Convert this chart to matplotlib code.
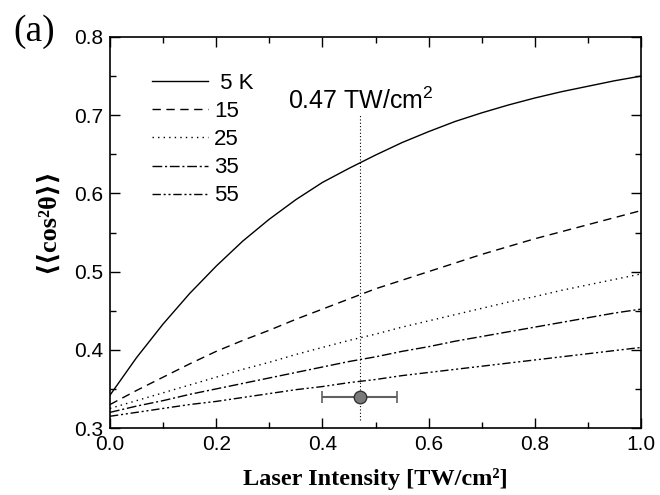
import matplotlib
matplotlib.use("Agg")
import numpy as np
import matplotlib.pyplot as plt
from matplotlib.ticker import MultipleLocator

plt.rcParams['font.family'] = ['Liberation Sans', 'DejaVu Sans']
plt.rcParams['mathtext.fontset'] = 'custom'
plt.rcParams['mathtext.rm'] = 'Liberation Sans'
plt.rcParams['mathtext.it'] = 'Liberation Sans:italic'
plt.rcParams['mathtext.bf'] = 'Liberation Sans:bold'

# laser intensity (TW/cm^2)
intensity = [0.0, 0.05, 0.1, 0.15, 0.2, 0.25, 0.3, 0.35, 0.4, 0.45, 0.5,
             0.55, 0.6, 0.65, 0.7, 0.75, 0.8, 0.85, 0.9, 0.95, 1.0]
# <<cos^2 theta>> for each rotational temperature
temps = [' 5 K', '15', '25', '35', '55']
cos2_5K = [0.342, 0.390, 0.433, 0.472, 0.507, 0.539, 0.567, 0.592, 0.614, 0.632, 0.649,
           0.665, 0.679, 0.692, 0.703, 0.713, 0.722, 0.730, 0.737, 0.744, 0.750]
cos2_15 = [0.330, 0.348, 0.365, 0.382, 0.398, 0.412, 0.425, 0.439, 0.452, 0.465, 0.478,
           0.489, 0.500, 0.511, 0.522, 0.532, 0.542, 0.551, 0.560, 0.569, 0.578]
cos2_25 = [0.325, 0.335, 0.345, 0.355, 0.365, 0.375, 0.384, 0.394, 0.403, 0.412, 0.420,
           0.429, 0.437, 0.445, 0.453, 0.461, 0.468, 0.476, 0.483, 0.490, 0.497]
cos2_35 = [0.320, 0.328, 0.335, 0.343, 0.350, 0.357, 0.364, 0.371, 0.378, 0.385, 0.391,
           0.398, 0.404, 0.411, 0.417, 0.423, 0.429, 0.435, 0.441, 0.447, 0.452]
cos2_55 = [0.315, 0.320, 0.325, 0.330, 0.334, 0.339, 0.344, 0.349, 0.353, 0.358, 0.362,
           0.367, 0.371, 0.375, 0.379, 0.383, 0.387, 0.391, 0.395, 0.399, 0.403]
curves = [cos2_5K, cos2_15, cos2_25, cos2_35, cos2_55]
styles = ['-', (0, (6, 4)), (0, (1, 3)), (0, (7, 2, 1.5, 2)), (0, (6, 2, 1.5, 2, 1.5, 2))]

# measured point
meas_x, meas_y, meas_xerr = 0.47, 0.34, 0.07

fig = plt.figure(figsize=(6.6, 4.95), dpi=100)
ax = fig.add_axes([110 / 660, (495 - 428) / 495, 531 / 660, 391 / 495])

for c, ls, lab in zip(curves, styles, temps):
    ax.plot(intensity, c, color='black', lw=1.0, ls=ls, label=lab)

ax.plot([meas_x, meas_x], [0.31, 0.70], color='black', lw=0.8, ls=(0, (1, 2)))
ax.errorbar(meas_x, meas_y, xerr=meas_xerr, fmt='o', color='#606060', ms=9,
            mfc='#7a7a7a', mec='#333333', capsize=4, elinewidth=1.5, capthick=1.2)
ax.text(0.335, 0.708, '0.47 TW/cm$^{2}$', fontsize=18, ha='left', va='baseline')

ax.legend(loc='upper left', bbox_to_anchor=(0.079, 0.908), frameon=False, fontsize=16,
          handlelength=2.5, handletextpad=0.3, labelspacing=0.32, borderaxespad=0,
          borderpad=0)

ax.set_xlim(0, 1.0)
ax.set_ylim(0.3, 0.8)
ax.xaxis.set_major_locator(MultipleLocator(0.2))
ax.xaxis.set_minor_locator(MultipleLocator(0.1))
ax.yaxis.set_major_locator(MultipleLocator(0.1))
ax.yaxis.set_minor_locator(MultipleLocator(0.05))
ax.xaxis.set_major_formatter(plt.FormatStrFormatter('%.1f'))
ax.yaxis.set_major_formatter(plt.FormatStrFormatter('%.1f'))
ax.tick_params(which='both', direction='in', top=True, right=True, labelsize=15, width=1.0)
ax.tick_params(which='major', length=7, pad=5)
ax.tick_params(which='minor', length=4)
for s in ax.spines.values():
    s.set_linewidth(1.2)

ax.set_xlabel('Laser Intensity [TW/cm²]', family=['Liberation Serif', 'DejaVu Serif'],
              fontweight='bold', fontsize=17.5, labelpad=10)
ax.set_ylabel('⟨⟨cos²θ⟩⟩', family=['Liberation Serif', 'DejaVu Serif'],
              fontweight='bold', fontsize=19, va='center')
ax.yaxis.set_label_coords(-0.117, 0.53)
fig.text(13 / 660, 1 - 14 / 495, '(a)', family='Liberation Serif', fontsize=27, va='top', ha='left')

plt.savefig('out.png', dpi=100)
